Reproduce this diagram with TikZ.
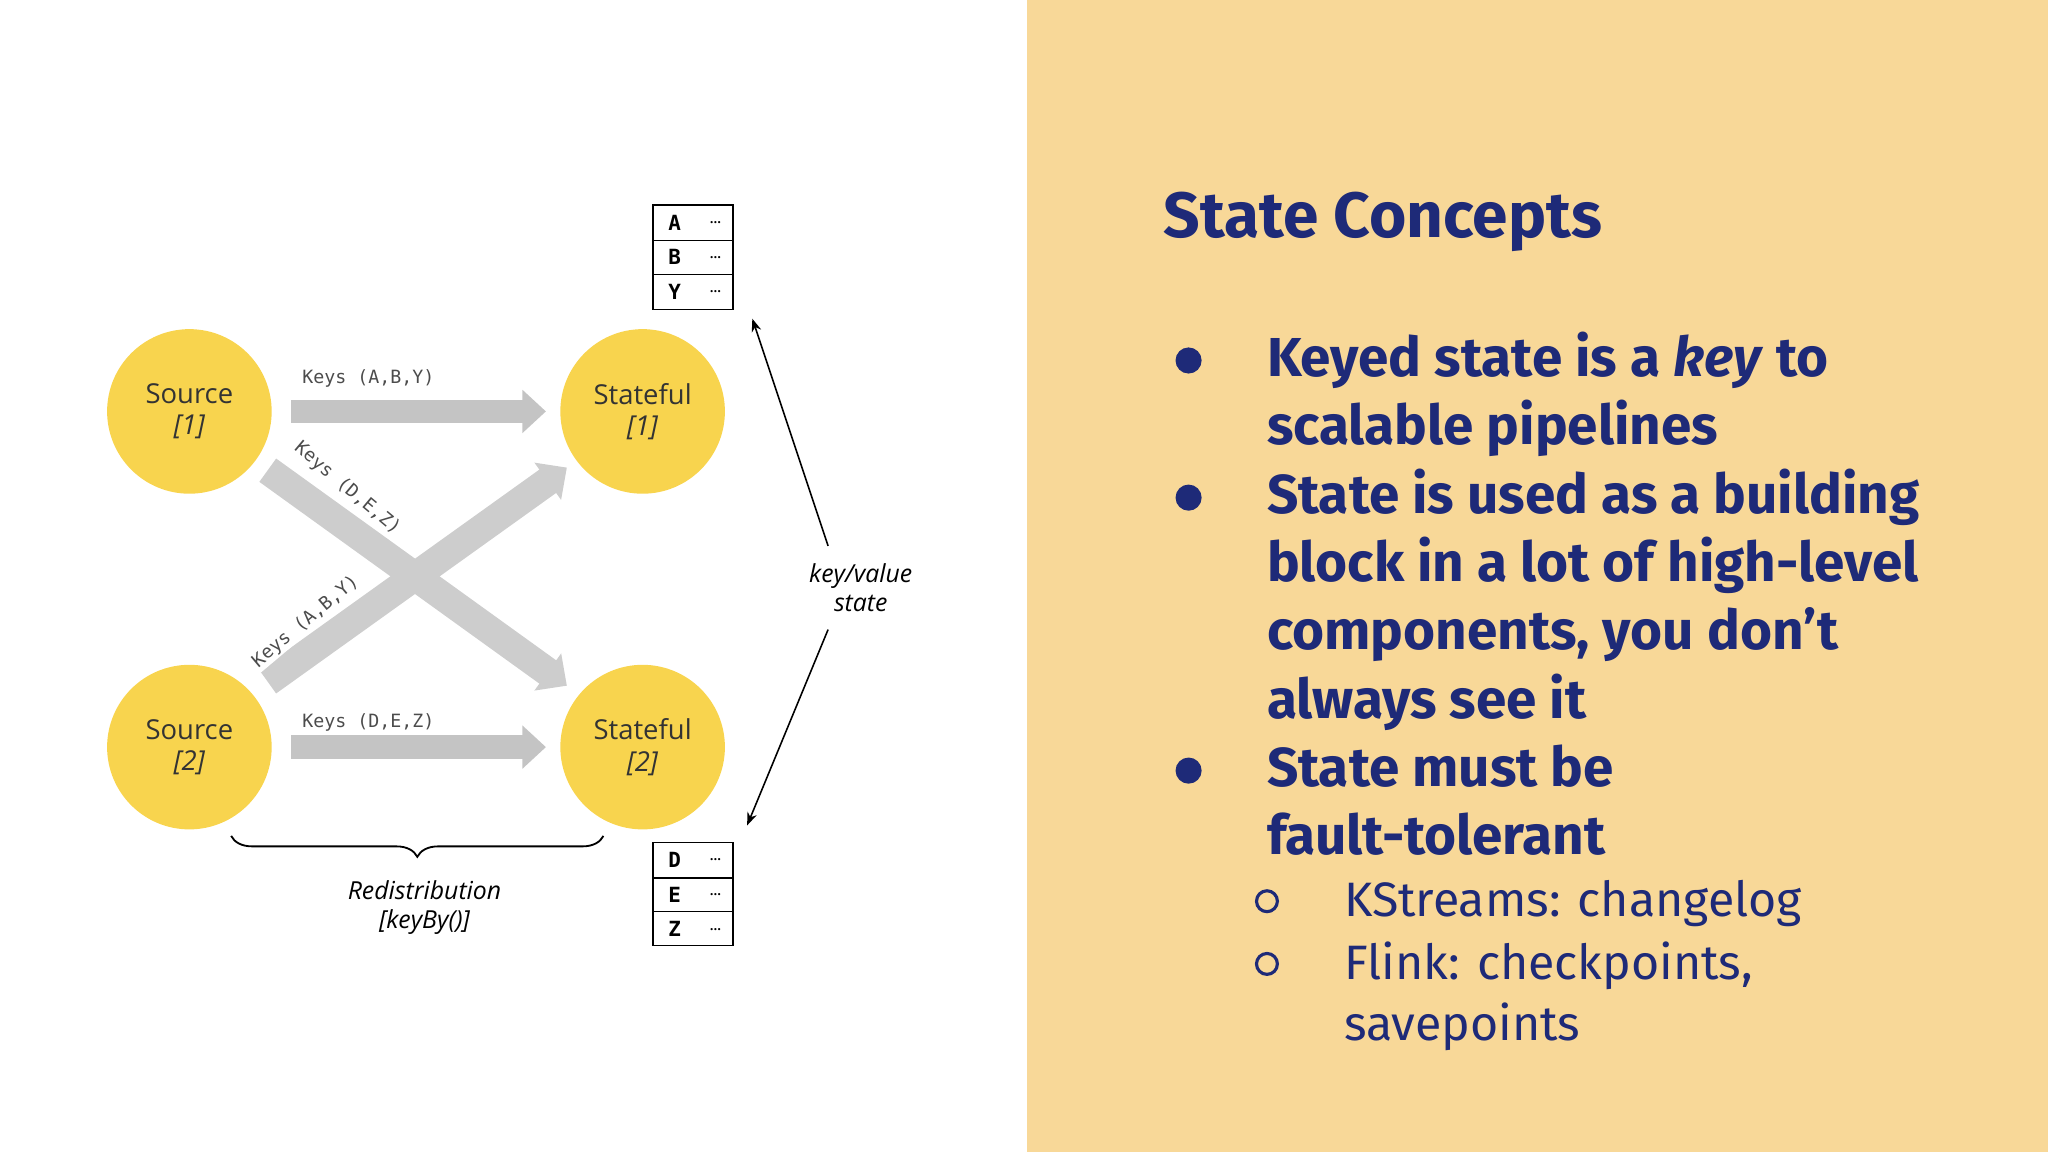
\documentclass[tikz,border=0pt]{standalone}
\usepackage{fontspec}
\setmainfont{Fira Sans}
\newfontfamily\circfont{Open Sans}
\newfontfamily\mono{DejaVu Sans Mono}
\usetikzlibrary{arrows.meta,decorations.pathreplacing}
\definecolor{panel}{HTML}{F8D898}
\definecolor{navy}{HTML}{1E2A78}
\definecolor{circ}{HTML}{F8D44E}
\definecolor{garrow}{HTML}{C4C4C4}
\begin{document}
\begin{tikzpicture}[x=0.5pt,y=-0.5pt,
  circ/.style={circle,fill=circ,minimum size=63pt,inner sep=0pt,align=center,font=\circfont\fontsize{10.5}{12}\selectfont,text=black!80},
  harrow/.style={draw=garrow,line width=9pt,-{Triangle[length=9pt,width=16pt]}},
  darrow/.style={draw=garrow!85,line width=11pt,-{Triangle[length=9pt,width=17pt]}},
  klab/.style={font=\mono\fontsize{7}{8}\selectfont,text=black!70},
  cell/.style={minimum width=16.5pt,minimum height=13.3pt,inner sep=0pt,font=\mono\bfseries\fontsize{8}{8}\selectfont},
  cellr/.style={minimum width=14pt,minimum height=13.3pt,inner sep=0pt,font=\fontsize{6}{6}\selectfont},
  bl/.style={anchor=base west,text=navy,font=\bfseries\fontsize{21}{24}\selectfont},
  sl/.style={anchor=base west,text=navy,font=\fontsize{18.5}{22}\selectfont},
  thin/.style={draw,line width=0.6pt,-{Stealth[length=5pt]}}]
\useasboundingbox (0,0) rectangle (1568,882);
\fill[panel] (786,0) rectangle (1568,882);
% circles
\node[circ] (s1) at (145,315) {Source\\\textit{[1]}};
\node[circ] (t1) at (492,315) {Stateful\\\textit{[1]}};
\node[circ] (s2) at (145,572) {Source\\\textit{[2]}};
\node[circ] (t2) at (492,572) {Stateful\\\textit{[2]}};
% arrows
\coordinate (a1) at (223,315); \coordinate (b1) at (418,315);
\coordinate (a2) at (223,572); \coordinate (b2) at (418,572);
\draw[harrow] (a1) -- (b1);
\draw[harrow] (a2) -- (b2);
\coordinate (d1) at (205,360); \coordinate (e1) at (434,525);
\coordinate (d2) at (205,522); \coordinate (e2) at (434,358);
\draw[darrow] (d1) -- (e1);
\draw[darrow] (d2) -- (e2);
\node[klab] (l1) at (282,290) {Keys (A,B,Y)};
\node[klab] (l2) at (282,553) {Keys (D,E,Z)};
\node[klab,rotate=-40,fill=white,inner sep=0.5pt] (l3) at (266,374) {Keys (D,E,Z)};
\node[klab,rotate=40,fill=white,inner sep=0.5pt] (l4) at (234,476) {Keys (A,B,Y)};
% tables
\draw[line width=0.6pt] (500,157) rectangle (561,237) (500,184) -- (561,184) (500,210) -- (561,210);
\draw[line width=0.6pt] (500,645) rectangle (561,724) (500,672) -- (561,672) (500,698) -- (561,698);
\foreach \t/\y in {A/170.5,B/197,Y/223.5}{
  \node[cell] (c\t) at (516.5,\y) {\t};
  \node[cellr,anchor=west] (r\t) at (c\t.east) {...};}
\foreach \t/\y in {D/658.5,E/685,Z/711.5}{
  \node[cell] (c\t) at (516.5,\y) {\t};
  \node[cellr,anchor=west] (r\t) at (c\t.east) {...};}
% key/value
\node[font=\circfont\itshape\fontsize{9.5}{11}\selectfont,align=center] (kv) at (659,450) {key/value\\state};
\coordinate (k1) at (634,418); \coordinate (k2) at (576,244);
\coordinate (k3) at (634,482); \coordinate (k4) at (572,632);
\draw[thin] (k1) -- (k2);
\draw[thin] (k3) -- (k4);
% brace
\coordinate (br1) at (462,640); \coordinate (br2) at (177,640);
\draw[decorate,decoration={brace,amplitude=8pt},line width=0.7pt] (br1) -- (br2);
\node[font=\circfont\itshape\fontsize{9.5}{11}\selectfont,align=center] (rd) at (325,695) {Redistribution\\{}[keyBy()]};
% right text
\node[anchor=base west,text=navy,font=\bfseries\fontsize{24.5}{28}\selectfont] (title) at (884,182) {State Concepts};
\foreach \y in {276,381,590}{\fill[navy] (910,\y) circle (10);}
\foreach \y in {690,738}{\draw[navy,line width=1.2pt] (970,\y) circle (8);}
\node[bl] at (963,288) {Keyed state is a \textit{key} to};
\node[bl] at (963,340) {scalable pipelines};
\node[bl] at (963,393) {State is used as a building};
\node[bl] at (963,445) {block in a lot of high-level};
\node[bl] at (963,497) {components, you don’t};
\node[bl] at (963,550) {always see it};
\node[bl] at (963,602) {State must be};
\node[bl] at (963,654) {fault-tolerant};
\node[sl] at (1022,702) {KStreams: changelog};
\node[sl] at (1022,750) {Flink: checkpoints,};
\node[sl] at (1022,797) {savepoints};
\end{tikzpicture}
\end{document}
